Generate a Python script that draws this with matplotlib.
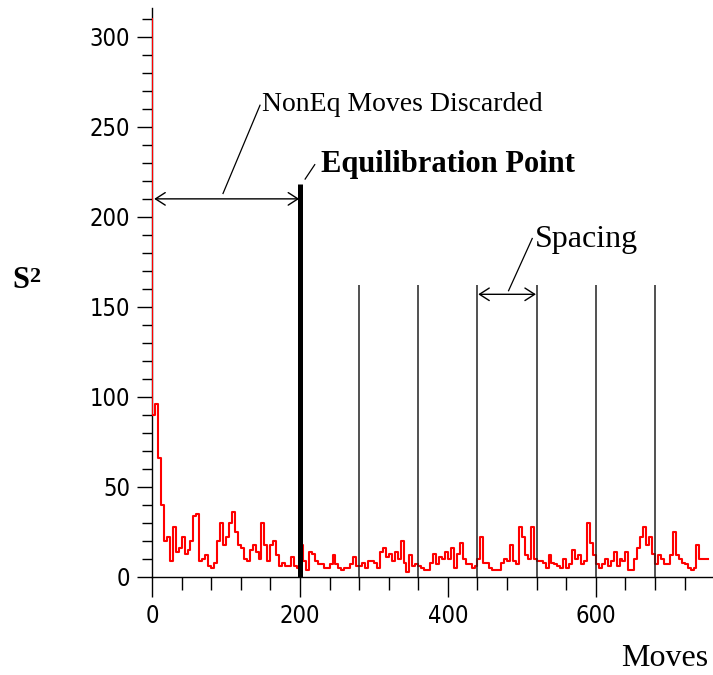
import numpy as np
import matplotlib
matplotlib.use('Agg')
import matplotlib.pyplot as plt
from matplotlib.ticker import MultipleLocator

plt.rcParams['font.family'] = ['DejaVu Sans']
plt.rcParams['font.stretch'] = 'condensed'
SERIF = ['Liberation Serif', 'DejaVu Serif']

# S^2, one value every 4 moves starting at 0
move_step = 4
s2 = [310, 90, 96, 66, 40, 20, 22, 9, 28, 14, 16, 22, 13, 15, 20, 34,
      35, 9, 10, 12, 6, 5, 8, 20, 30, 18, 22, 30, 36, 25, 18, 16,
      10, 9, 15, 18, 14, 10, 30, 18, 9, 18, 20, 12, 6, 8, 6, 6,
      11, 6, 5, 18, 9, 4, 14, 13, 9, 7, 7, 5, 5, 7, 12, 7,
      5, 4, 5, 5, 7, 11, 6, 6, 8, 5, 9, 9, 8, 5, 14, 16,
      11, 13, 9, 14, 10, 20, 8, 3, 12, 6, 7, 6, 5, 4, 4, 8,
      13, 7, 11, 10, 14, 10, 16, 5, 13, 19, 10, 7, 7, 5, 6, 10,
      22, 8, 8, 5, 4, 4, 4, 8, 10, 9, 18, 9, 7, 28, 22, 12,
      10, 28, 10, 9, 9, 8, 5, 12, 8, 7, 6, 5, 10, 5, 7, 15,
      10, 12, 7, 9, 30, 19, 12, 7, 5, 7, 10, 6, 9, 14, 6, 10,
      9, 14, 4, 4, 10, 16, 22, 28, 18, 22, 13, 7, 12, 10, 7, 7,
      12, 25, 12, 10, 8, 7, 5, 4, 5, 18, 10, 10, 10]
moves = np.arange(len(s2)) * move_step

equil_point = 200
equil_height = 218
sample_points = [280, 360, 440, 520, 600, 680]
sample_height = 162

fig = plt.figure(figsize=(7.13, 6.75), dpi=100)
ax = fig.add_axes([152 / 713, 98 / 675, 560 / 713, 569 / 675])
ax.set_xlim(0, 757)
ax.set_ylim(0, 316)

ax.plot(moves, s2, color='red', lw=1.5, drawstyle='steps-pre', zorder=2.6)
ax.vlines(equil_point, 0, equil_height, color='black', lw=3.6, zorder=3)
ax.vlines(sample_points, 0, sample_height, color='#222222', lw=1.1, zorder=3)

# arrows and leader lines
arrow = dict(arrowstyle='<->,head_length=0.7,head_width=0.45', lw=1,
             color='black', shrinkA=0, shrinkB=0)
ax.annotate('', xy=(3, 210), xytext=(199, 210), arrowprops=arrow)
ax.annotate('', xy=(441, 157), xytext=(519, 157), arrowprops=arrow)
ax.plot([96, 146], [213, 262], color='black', lw=0.9)
ax.plot([207, 220], [221, 229], color='black', lw=0.9)
ax.plot([482, 514], [159, 188], color='black', lw=0.9)

ax.text(149, 259, 'NonEq Moves Discarded', family=SERIF, fontsize=20, va='baseline')
ax.text(229, 225, 'Equilibration Point', family=SERIF, fontsize=22,
        fontweight='bold', va='baseline')
ax.text(517, 183, 'Spacing', family=SERIF, fontsize=23, va='baseline')

fig.text(12 / 713, (675 - 288) / 675, 'S', family=SERIF, fontsize=22,
         fontweight='bold', va='baseline')
fig.text(29 / 713, (675 - 282) / 675, '2', family=SERIF, fontsize=16,
         fontweight='bold', va='baseline')
fig.text(621 / 713, 2 / 675, 'Moves', family=SERIF, fontsize=23,
         va='bottom')

for side in ['top', 'right']:
    ax.spines[side].set_visible(False)
for side in ['left', 'bottom']:
    ax.spines[side].set_linewidth(1)
    ax.spines[side].set_zorder(2.5)

ax.xaxis.set_major_locator(MultipleLocator(200))
ax.xaxis.set_minor_locator(MultipleLocator(40))
ax.yaxis.set_major_locator(MultipleLocator(50))
ax.yaxis.set_minor_locator(MultipleLocator(10))
ax.tick_params(axis='y', which='major', length=10.8, width=1, pad=5, labelsize=17)
ax.tick_params(axis='y', which='minor', length=7.2, width=1)
ax.tick_params(axis='x', which='major', length=14.4, width=1, pad=5, labelsize=17)
ax.tick_params(axis='x', which='minor', length=9.4, width=1)

fig.savefig('out.png', dpi=100)
